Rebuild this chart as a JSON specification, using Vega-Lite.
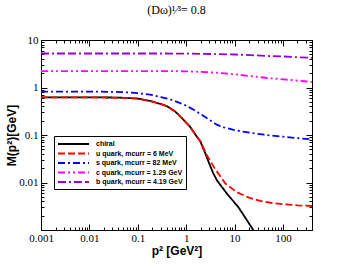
{
  "$schema": "https://vega.github.io/schema/vega-lite/v6.json",
  "width": 271,
  "height": 190,
  "autosize": "none",
  "padding": {"left": 41, "top": 40, "right": 39, "bottom": 41},
  "background": "white",
  "config": {
    "view": {"stroke": "black", "strokeWidth": 1},
    "axis": {"domainColor": "black", "tickColor": "black", "labelColor": "black", "titleColor": "black", "grid": false}
  },
  "title": {"text": "(Dω)¹⁄³= 0.8", "font": "Liberation Serif", "fontSize": 12, "fontWeight": "normal", "offset": 17, "color": "black"},
  "data": {"values": [
    {"series": "chiral", "p": 0.001, "m": 0.62},
    {"series": "chiral", "p": 0.01, "m": 0.62},
    {"series": "chiral", "p": 0.03, "m": 0.615},
    {"series": "chiral", "p": 0.05, "m": 0.607},
    {"series": "chiral", "p": 0.1, "m": 0.585},
    {"series": "chiral", "p": 0.18, "m": 0.52},
    {"series": "chiral", "p": 0.3, "m": 0.45},
    {"series": "chiral", "p": 0.41, "m": 0.40},
    {"series": "chiral", "p": 0.6, "m": 0.31},
    {"series": "chiral", "p": 0.88, "m": 0.21},
    {"series": "chiral", "p": 1.2, "m": 0.15},
    {"series": "chiral", "p": 1.69, "m": 0.09},
    {"series": "chiral", "p": 1.97, "m": 0.073},
    {"series": "chiral", "p": 2.4, "m": 0.045},
    {"series": "chiral", "p": 2.92, "m": 0.027},
    {"series": "chiral", "p": 3.6, "m": 0.016},
    {"series": "chiral", "p": 4.36, "m": 0.011},
    {"series": "chiral", "p": 7, "m": 0.0058},
    {"series": "chiral", "p": 12.1, "m": 0.003},
    {"series": "chiral", "p": 23, "m": 0.0011},
    {"series": "chiral", "p": 28, "m": 0.0008},
    {"series": "u", "p": 0.001, "m": 0.62},
    {"series": "u", "p": 0.01, "m": 0.62},
    {"series": "u", "p": 0.03, "m": 0.615},
    {"series": "u", "p": 0.05, "m": 0.607},
    {"series": "u", "p": 0.1, "m": 0.585},
    {"series": "u", "p": 0.18, "m": 0.52},
    {"series": "u", "p": 0.3, "m": 0.45},
    {"series": "u", "p": 0.41, "m": 0.40},
    {"series": "u", "p": 0.6, "m": 0.31},
    {"series": "u", "p": 0.88, "m": 0.21},
    {"series": "u", "p": 1.2, "m": 0.15},
    {"series": "u", "p": 1.69, "m": 0.092},
    {"series": "u", "p": 1.97, "m": 0.075},
    {"series": "u", "p": 2.7, "m": 0.037},
    {"series": "u", "p": 4.0, "m": 0.019},
    {"series": "u", "p": 6.5, "m": 0.0095},
    {"series": "u", "p": 11.3, "m": 0.0062},
    {"series": "u", "p": 20, "m": 0.0048},
    {"series": "u", "p": 34, "m": 0.0041},
    {"series": "u", "p": 60, "m": 0.0037},
    {"series": "u", "p": 103, "m": 0.0035},
    {"series": "u", "p": 200, "m": 0.0033},
    {"series": "u", "p": 400, "m": 0.0032},
    {"series": "s", "p": 0.001, "m": 0.82},
    {"series": "s", "p": 0.01, "m": 0.82},
    {"series": "s", "p": 0.03, "m": 0.81},
    {"series": "s", "p": 0.06, "m": 0.79},
    {"series": "s", "p": 0.1, "m": 0.76},
    {"series": "s", "p": 0.18, "m": 0.71},
    {"series": "s", "p": 0.3, "m": 0.63},
    {"series": "s", "p": 0.47, "m": 0.56},
    {"series": "s", "p": 0.89, "m": 0.44},
    {"series": "s", "p": 1.44, "m": 0.34},
    {"series": "s", "p": 2.3, "m": 0.25},
    {"series": "s", "p": 4.3, "m": 0.165},
    {"series": "s", "p": 6, "m": 0.145},
    {"series": "s", "p": 9.6, "m": 0.128},
    {"series": "s", "p": 15, "m": 0.118},
    {"series": "s", "p": 29, "m": 0.106},
    {"series": "s", "p": 60, "m": 0.097},
    {"series": "s", "p": 103, "m": 0.092},
    {"series": "s", "p": 200, "m": 0.086},
    {"series": "s", "p": 400, "m": 0.081},
    {"series": "c", "p": 0.001, "m": 2.22},
    {"series": "c", "p": 0.1, "m": 2.22},
    {"series": "c", "p": 0.5, "m": 2.21},
    {"series": "c", "p": 1, "m": 2.19},
    {"series": "c", "p": 2, "m": 2.13},
    {"series": "c", "p": 4.3, "m": 2.05},
    {"series": "c", "p": 10, "m": 1.9},
    {"series": "c", "p": 21, "m": 1.74},
    {"series": "c", "p": 50, "m": 1.58},
    {"series": "c", "p": 103, "m": 1.48},
    {"series": "c", "p": 200, "m": 1.4},
    {"series": "c", "p": 400, "m": 1.31},
    {"series": "b", "p": 0.001, "m": 5.2},
    {"series": "b", "p": 1, "m": 5.19},
    {"series": "b", "p": 4.3, "m": 5.05},
    {"series": "b", "p": 10, "m": 4.95},
    {"series": "b", "p": 21, "m": 4.8},
    {"series": "b", "p": 50, "m": 4.6},
    {"series": "b", "p": 103, "m": 4.5},
    {"series": "b", "p": 200, "m": 4.35},
    {"series": "b", "p": 400, "m": 4.2}
  ]},
  "layer": [
    {
      "mark": {"type": "line", "strokeWidth": 1.8, "clip": true},
      "encoding": {
        "x": {"field": "p", "type": "quantitative",
          "scale": {"type": "log", "domain": [0.001, 400], "nice": false},
          "axis": {"orient": "bottom", "title": "p² [GeV²]", "titleFont": "Liberation Sans", "titleFontWeight": "bold", "titleFontSize": 12, "titlePadding": -1,
            "labelFont": "Liberation Serif", "labelFontSize": 11, "labelPadding": 8, "labelOverlap": false, "labelFlush": false,
            "values": [0.001,0.002,0.003,0.004,0.005,0.006,0.007,0.008,0.009,0.01,0.02,0.03,0.04,0.05,0.06,0.07,0.08,0.09,0.1,0.2,0.3,0.4,0.5,0.6,0.7,0.8,0.9,1,2,3,4,5,6,7,8,9,10,20,30,40,50,60,70,80,90,100,200,300,400],
            "labelExpr": "abs(log(datum.value)/LN10 - round(log(datum.value)/LN10)) < 1e-6 ? format(datum.value, '~g') : ''",
            "tickSize": {"condition": {"test": "abs(log(datum.value)/LN10 - round(log(datum.value)/LN10)) < 1e-6", "value": -6}, "value": -3}}},
        "y": {"field": "m", "type": "quantitative",
          "scale": {"type": "log", "domain": [0.001, 10], "nice": false},
          "axis": {"orient": "left", "title": "M(p²)[GeV]", "titleFont": "Liberation Sans", "titleFontWeight": "bold", "titleFontSize": 12, "titlePadding": 0,
            "labelFont": "Liberation Serif", "labelFontSize": 11, "labelPadding": 9, "labelOverlap": false, "labelFlush": false,
            "values": [0.001,0.002,0.003,0.004,0.005,0.006,0.007,0.008,0.009,0.01,0.02,0.03,0.04,0.05,0.06,0.07,0.08,0.09,0.1,0.2,0.3,0.4,0.5,0.6,0.7,0.8,0.9,1,2,3,4,5,6,7,8,9,10],
            "labelExpr": "datum.value > 0.002 && abs(log(datum.value)/LN10 - round(log(datum.value)/LN10)) < 1e-6 ? format(datum.value, '~g') : ''",
            "tickSize": {"condition": {"test": "abs(log(datum.value)/LN10 - round(log(datum.value)/LN10)) < 1e-6", "value": -6}, "value": -3}}},
        "color": {"field": "series", "type": "nominal",
          "scale": {"domain": ["chiral", "u", "s", "c", "b"], "range": ["#000000", "#ff0000", "#0000ff", "#ff00ff", "#9400d3"]},
          "legend": {"orient": "none", "legendX": 13, "legendY": 96, "title": null,
            "labelExpr": "datum.value == 'chiral' ? 'chiral' : datum.value == 'u' ? 'u quark, mcurr = 6 MeV' : datum.value == 's' ? 's quark, mcurr = 82 MeV' : datum.value == 'c' ? 'c quark, mcurr = 1.29 GeV' : 'b quark, mcurr = 4.19 GeV'",
            "labelFont": "Liberation Sans", "labelFontWeight": "bold", "labelFontSize": 7, "labelColor": "black",
            "symbolType": "M-3.875,0H3.875", "symbolSize": 64, "symbolStrokeWidth": 1.8, "rowPadding": 0.5,
            "symbolOffset": 11.5, "labelOffset": 17.5,
            "strokeColor": "black", "fillColor": "white", "padding": 3}},
        "strokeDash": {"field": "series", "type": "nominal",
          "scale": {"domain": ["chiral", "u", "s", "c", "b"], "range": [[1, 0], [7, 3], [7, 3, 2, 3], [7, 3, 2, 3, 2, 3], [8, 3, 2, 3, 8, 3]]},
          "legend": null}
      }
    },
    {
      "mark": {"type": "line", "opacity": 0},
      "encoding": {
        "x": {"field": "p", "type": "quantitative",
          "scale": {"type": "log", "domain": [0.001, 400], "nice": false},
          "axis": {"orient": "top", "title": null, "labels": false,
            "values": [0.001,0.002,0.003,0.004,0.005,0.006,0.007,0.008,0.009,0.01,0.02,0.03,0.04,0.05,0.06,0.07,0.08,0.09,0.1,0.2,0.3,0.4,0.5,0.6,0.7,0.8,0.9,1,2,3,4,5,6,7,8,9,10,20,30,40,50,60,70,80,90,100,200,300,400],
            "tickSize": {"condition": {"test": "abs(log(datum.value)/LN10 - round(log(datum.value)/LN10)) < 1e-6", "value": -6}, "value": -3}}},
        "y": {"field": "m", "type": "quantitative",
          "scale": {"type": "log", "domain": [0.001, 10], "nice": false},
          "axis": {"orient": "right", "title": null, "labels": false,
            "values": [0.001,0.002,0.003,0.004,0.005,0.006,0.007,0.008,0.009,0.01,0.02,0.03,0.04,0.05,0.06,0.07,0.08,0.09,0.1,0.2,0.3,0.4,0.5,0.6,0.7,0.8,0.9,1,2,3,4,5,6,7,8,9,10],
            "tickSize": {"condition": {"test": "abs(log(datum.value)/LN10 - round(log(datum.value)/LN10)) < 1e-6", "value": -6}, "value": -3}}}
      }
    }
  ],
  "resolve": {"axis": {"x": "independent", "y": "independent"}}
}
